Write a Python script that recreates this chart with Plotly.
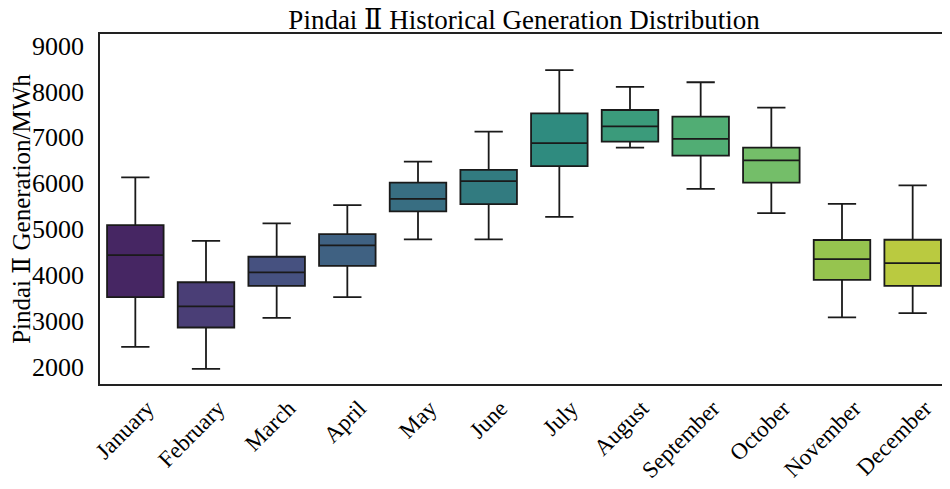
import colorsys
import plotly.graph_objects as go
from plotly.colors import sample_colorscale, sequential, unlabel_rgb

months = ["January", "February", "March", "April", "May", "June", "July",
          "August", "September", "October", "November", "December"]
lower_whisker = [2440, 1960, 3070, 3520, 4780, 4780, 5270, 6775, 5880, 5350, 3080, 3175]
q1 = [3520, 2860, 3765, 4200, 5390, 5545, 6375, 6905, 6600, 6015, 3895, 3765]
median = [4435, 3320, 4060, 4650, 5660, 6045, 6875, 7240, 6965, 6500, 4350, 4260]
q3 = [5090, 3845, 4400, 4895, 6015, 6290, 7520, 7595, 7450, 6775, 4765, 4770]
upper_whisker = [6130, 4745, 5125, 5525, 6470, 7125, 8465, 8100, 8200, 7645, 5550, 5955]

title_text = "Pindai \u2161 Historical Generation Distribution"
ylabel_text = "Pindai \u2161 Generation/MWh"
yticks = [2000, 3000, 4000, 5000, 6000, 7000, 8000, 9000]

FONT = "Liberation Serif, Times New Roman, DejaVu Serif, serif"


def desat(rgb_str, prop=0.75):
    r, g, b = [c / 255 for c in unlabel_rgb(rgb_str)]
    h, l, s = colorsys.rgb_to_hls(r, g, b)
    r, g, b = colorsys.hls_to_rgb(h, l, s * prop)
    return "rgb(%d,%d,%d)" % (round(r * 255), round(g * 255), round(b * 255))


n = len(months)
positions = [(i + 1) / (n + 1) for i in range(n)]
base_cols = sample_colorscale(sequential.Viridis, positions)
colors = [desat(c) for c in base_cols]

fig = go.Figure()
for i, m in enumerate(months):
    fig.add_trace(go.Box(
        x=[m],
        q1=[q1[i]], median=[median[i]], q3=[q3[i]],
        lowerfence=[lower_whisker[i]], upperfence=[upper_whisker[i]],
        fillcolor=colors[i],
        line=dict(color="#1a1a1a", width=1.8),
        whiskerwidth=0.5,
        width=0.8,
        boxpoints=False,
        showlegend=False,
        name=m,
    ))

# the page body has an 8px default margin; the figure is sized to fit the window
fig.update_layout(
    width=942, height=481,
    margin=dict(l=92, r=2, t=26, b=105),
    paper_bgcolor="white", plot_bgcolor="white",
    boxmode="overlay",
    font=dict(family=FONT, color="black", size=22),
    title=dict(text=title_text, x=0.5, xref="paper", xanchor="center",
               y=0.975, yanchor="middle", yref="container",
               font=dict(family=FONT, size=27, color="black")),
)
fig.update_xaxes(
    type="category", categoryorder="array", categoryarray=months,
    range=[-0.5, n - 0.5], automargin=False,
    showline=True, mirror=True, linecolor="#222", linewidth=1.5,
    showgrid=False, ticks="", tickangle=-45, ticklabelshift=12,
    tickfont=dict(family=FONT, size=23, color="black"),
)
fig.update_yaxes(
    range=[1630, 9250], automargin=False,
    tickvals=yticks, ticktext=[str(v) for v in yticks],
    showline=True, mirror=True, linecolor="#222", linewidth=1.5,
    showgrid=False, zeroline=False,
    ticks="outside", ticklen=9, tickcolor="rgba(0,0,0,0)",
    tickfont=dict(family=FONT, size=26, color="black"),
    title=dict(text=ylabel_text, standoff=10,
               font=dict(family=FONT, size=25, color="black")),
)

fig.write_html("out.html")
